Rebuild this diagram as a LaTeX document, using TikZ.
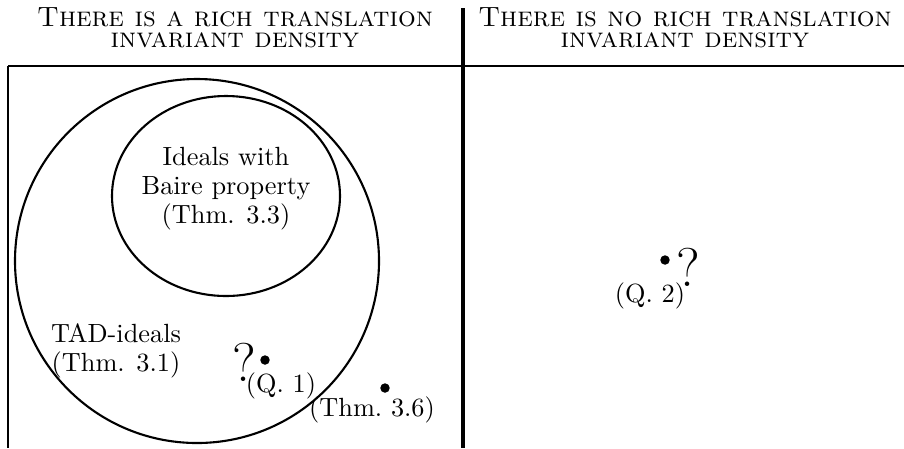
\documentclass[tikz,border=0pt]{standalone}
\usetikzlibrary{calc}
\tikzset{
  heading/.style={font=\scshape\fontsize{10.6}{7.8}\selectfont,align=center},
  txt/.style={font=\fontsize{10}{11}\selectfont,align=center},
  query/.style={font=\huge,inner sep=0pt},
  spot/.style={circle,fill=black,inner sep=0pt,minimum size=3.6pt},
  setline/.style={thick},
}

\begin{document}
\begin{tikzpicture}[x=0.38pt,y=-0.38pt]
  \useasboundingbox (0,0) rectangle (904,448);

  % 坐标点定义
  \coordinate (T) at (463,8);
  \coordinate (B) at (463,448);
  \coordinate (L) at (8,66);
  \coordinate (R) at (904,66);
  \coordinate (LB) at (8,448);
  \coordinate (O) at (197,261);
  \coordinate (P) at (226,196);

  % 分隔线
  \draw[line width=1.6pt] (T) -- (B);
  \draw (L) -- (R);
  \draw (L) -- (LB);

  % 标题
  \node[heading] (hl) at (235,28) {There is a rich translation\\invariant density};
  \node[heading] (hr) at (685,28) {There is no rich translation\\invariant density};

  % 集合
  \draw[setline] (O) circle [radius=182];
  \draw[setline] (P) ellipse [x radius=114,y radius=100];

  \node[txt] (baire) at (226,189) {Ideals with\\Baire property\\(Thm. 3.3)};
  \node[txt] (tad) at (116,351) {TAD-ideals\\(Thm. 3.1)};

  % 点标记
  \node[spot] (q1) at (265,360) {};
  \node[spot] (t36) at (385,388) {};
  \node[spot] (q2) at (665,260) {};

  % 点标签
  \node[query] (qm1) at (244,362) {?};
  \node[txt] (lq1) at (281,386) {(Q.~1)};
  \node[txt] (lt36) at (372,410) {(Thm.~3.6)};
  \node[query] (qm2) at (688,267) {?};
  \node[txt] (lq2) at (650,296) {(Q.~2)};
\end{tikzpicture}
\end{document}
